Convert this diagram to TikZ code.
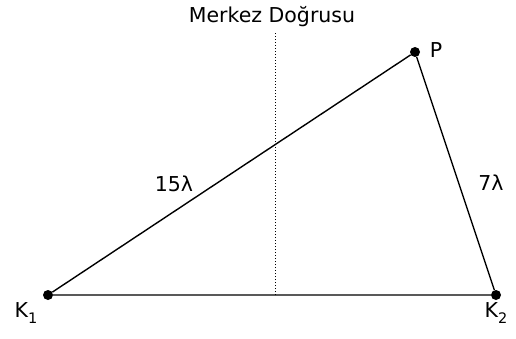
\documentclass[tikz,border=0pt]{standalone}
\usepackage{fontspec}
\setmainfont{DejaVu Sans}
\newcommand{\subx}[1]{\raisebox{-0.3em}{\fontsize{14.5}{16}\selectfont #1}}
\begin{document}
\begin{tikzpicture}[x=1pt,y=1pt,
  pt/.style={circle,fill=black,inner sep=0pt,minimum size=10pt},
  lbl/.style={font=\fontsize{20.5}{24}\selectfont,inner sep=0pt},
  edge/.style={line width=1.4pt,black}]
\useasboundingbox (0,0) rectangle (516,338);
\node[pt] (K1) at (48,43) {};
\node[pt] (K2) at (496,43) {};
\node[pt] (P) at (415,286) {};
\coordinate (Mb) at (275.5,43);
\coordinate (Mt) at (275.5,306);
\draw[line width=1pt,dotted] (Mb) -- (Mt);
\draw[edge] (K1) -- (K2) -- (P) -- (K1);
\node[lbl] (title) at (272,321) {Merkez Doğrusu};
\node[lbl] (k1l) at (26,25) {K\subx{1}};
\node[lbl] (k2l) at (496,25) {K\subx{2}};
\node[lbl] (pl) at (436,288) {P};
\node[lbl] (a) at (174,154) {15λ};
\node[lbl] (b) at (491,155) {7λ};
\end{tikzpicture}
\end{document}
